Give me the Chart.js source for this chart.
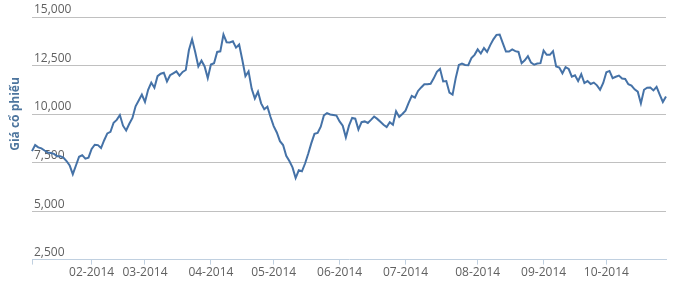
<!DOCTYPE html>
<html>
<head>
<meta charset="utf-8">
<script src="https://cdn.jsdelivr.net/npm/chart.js@4/dist/chart.umd.min.js"></script>
<style>
  html, body { margin: 0; padding: 0; background: #fff; }
  #wrap { width: 675px; height: 289px; }
</style>
</head>
<body>
<div id="wrap"><canvas id="priceChart"></canvas></div>
<script>
// Month tick labels and number of trading sessions in each month
const monthLabels = ['01-2014', '02-2014', '03-2014', '04-2014', '05-2014', '06-2014', '07-2014', '08-2014', '09-2014', '10-2014'];
const monthSessions = [19, 17, 21, 20, 21, 21, 23, 21, 20, 20];

// Daily closing price, one value per session
const prices = [
    8090, 8400, 8280, 8230, 8120, 8020, 7990, 7950, 7830, 7830, 7760, 7580, 7350, 6900, 7350, 7800, 7880, 7700, 7750,
    8200, 8420, 8400, 8250, 8650, 9000, 9080, 9550, 9700, 9950, 9400, 9150, 9500, 9800, 10400, 10700, 11000,
    10620, 11250, 11620, 11350, 11950, 12080, 12130, 11680, 12000, 12100, 12200, 11980, 12170, 12270, 13300, 13850, 13200, 12450, 12750, 12450, 11850,
    12550, 12620, 13200, 13230, 14100, 13700, 13690, 13750, 13420, 13580, 12800, 11950, 12200, 11300, 10800, 11150, 10550, 10250, 10380, 9850,
    9380, 9050, 8600, 8400, 7850, 7580, 7250, 6700, 7100, 7050, 7450, 7950, 8500, 8980, 9030, 9350, 9930, 10050, 9980, 9950, 9920,
    9620, 9400, 8800, 9400, 9800, 9760, 9200, 9580, 9620, 9540, 9700, 9870, 9750, 9600, 9450, 9330, 9580, 9450, 10140, 9850, 10000,
    10170, 10580, 10940, 10850, 11190, 11370, 11530, 11540, 11560, 11840, 12180, 12330, 11680, 11700, 11100, 11000, 11850, 12530, 12600, 12530, 12520, 12880, 13050,
    13330, 13120, 13400, 13200, 13550, 13850, 14080, 14100, 13650, 13220, 13220, 13330, 13240, 13200, 12620, 12770, 12980, 12650, 12540, 12600, 12620,
    13270, 13050, 13050, 13240, 12450, 12400, 12100, 12420, 12320, 11930, 12000, 11700, 12050, 11600, 11700, 11550, 11620, 11480, 11250, 11600,
    12150, 12220, 11850, 11920, 11980, 11830, 11810, 11540, 11470, 11270, 11150, 10550, 11250, 11360, 11370, 11220, 11400, 11000, 10620, 10900
];

// y axis range
const yMin = 2500;
const yMax = 15000;
const yStep = 2500;

// one category per session, month label on the first session of each month
const categories = [];
monthSessions.forEach((n, m) => {
    for (let k = 0; k < n; k++) categories.push(k === 0 ? monthLabels[m] : '');
});

// y axis title drawn at the left, like the original
const yTitle = {
    id: 'yTitle',
    afterDraw(chart) {
        const ctx = chart.ctx;
        ctx.save();
        ctx.translate(16, 114);
        ctx.rotate(-Math.PI / 2);
        ctx.font = 'bold 12px "Open Sans"';
        ctx.fillStyle = '#4d759e';
        ctx.textAlign = 'center';
        ctx.textBaseline = 'middle';
        ctx.fillText('Giá cổ phiếu', 0, 0);
        ctx.restore();
    }
};

Chart.defaults.font.family = '"Open Sans", sans-serif';
Chart.defaults.font.size = 12;
Chart.defaults.color = '#606060';

const priceChart = new Chart(document.getElementById('priceChart'), {
    type: 'line',
    data: {
        labels: categories,
        datasets: [{
            label: 'Giá cổ phiếu',
            data: prices,
            borderColor: '#4572A7',
            borderWidth: 2,
            pointRadius: 0,
            tension: 0,
            fill: false
        }]
    },
    options: {
        responsive: true,
        maintainAspectRatio: false,
        animation: false,
        layout: {
            padding: { left: 28, right: 9, top: 17, bottom: 8 }
        },
        plugins: {
            legend: { display: false },
            tooltip: { enabled: false }
        },
        scales: {
            x: {
                offset: false,
                border: { color: '#C0D0E0', width: 1 },
                grid: {
                    drawOnChartArea: false,
                    drawTicks: true,
                    tickLength: 5,
                    color: (c) => categories[c.index] ? '#C0D0E0' : 'rgba(0,0,0,0)'
                },
                ticks: {
                    autoSkip: false,
                    maxRotation: 0,
                    minRotation: 0,
                    padding: 1,
                    font: { size: 12 },
                    callback: (v, i) => (i === 0 ? '' : categories[i])
                }
            },
            y: {
                min: yMin,
                max: yMax,
                border: { display: false },
                grid: {
                    drawTicks: false,
                    color: (c) => c.tick && c.tick.value === yMin ? 'rgba(0,0,0,0)' : '#C0C0C0'
                },
                ticks: {
                    stepSize: yStep,
                    mirror: true,
                    padding: 2,
                    labelOffset: -7,
                    callback: (v) => v.toLocaleString('en-US')
                }
            }
        }
    },
    plugins: [yTitle]
});
</script>
</body>
</html>
